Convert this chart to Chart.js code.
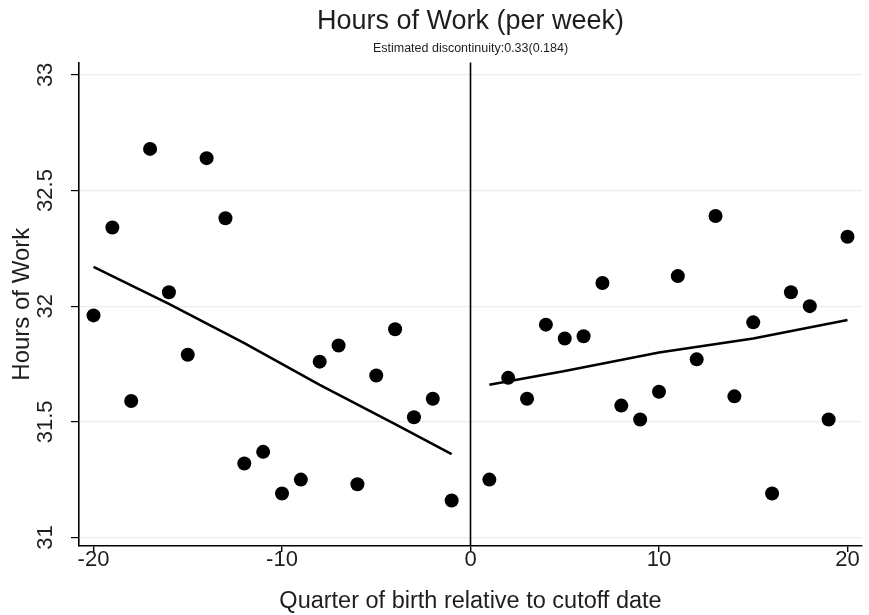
<!DOCTYPE html>
<html>
<head>
<meta charset="utf-8">
<title>Hours of Work (per week)</title>
<script src="https://cdn.jsdelivr.net/npm/chart.js@4/dist/chart.umd.min.js"></script>
<style>
  html, body { margin: 0; padding: 0; background: #ffffff; overflow: hidden; }
  canvas { display: block; }
</style>
</head>
<body>
<canvas id="chart" width="869" height="615"></canvas>
<script>
// Quarter of birth relative to the school-entry cutoff, and mean weekly hours per quarter
const leftQuarters  = [-20, -19, -18, -17, -16, -15, -14, -13, -12, -11, -10, -9, -8, -7, -6, -5, -4, -3, -2, -1];
const leftHours     = [31.96, 32.34, 31.59, 32.68, 32.06, 31.79, 32.64, 32.38, 31.32, 31.37, 31.19, 31.25, 31.76, 31.83, 31.23, 31.70, 31.90, 31.52, 31.60, 31.16];
const rightQuarters = [1, 2, 3, 4, 5, 6, 7, 8, 9, 10, 11, 12, 13, 14, 15, 16, 17, 18, 19, 20];
const rightHours    = [31.25, 31.69, 31.60, 31.92, 31.86, 31.87, 32.10, 31.57, 31.51, 31.63, 32.13, 31.77, 32.39, 31.61, 31.93, 31.19, 32.06, 32.00, 31.51, 32.30];

// Fitted curves on each side of the cutoff
const leftFitQuarters  = [-20, -16, -12, -8, -4, -1];
const leftFitHours     = [32.17, 32.01, 31.84, 31.66, 31.49, 31.36];
const rightFitQuarters = [1, 5, 10, 15, 20];
const rightFitHours    = [31.66, 31.72, 31.80, 31.86, 31.94];

const cutoff = 0;
const xTickValues = [-20, -10, 0, 10, 20];
const xTickLabels = ['-20', '-10', '0', '10', '20'];
const yTickValues = [31, 31.5, 32, 32.5, 33];
const yTickLabels = ['31', '31.5', '32', '32.5', '33'];

const chartTitle    = 'Hours of Work (per week)';
const chartSubtitle = 'Estimated discontinuity:0.33(0.184)';
const xAxisTitle    = 'Quarter of birth relative to cutoff date';
const yAxisTitle    = 'Hours of Work';

const FONT = "'Liberation Sans', Arial, Helvetica, sans-serif";
const INK = '#1e1e1e';

const toPoints = (xs, ys) => xs.map((x, i) => ({ x: x, y: ys[i] }));

// Vertical reference line at the cutoff, and the tick labels of both axes
// (y labels are rotated to read upwards)
const cutoffAndLabels = {
  id: 'cutoffAndLabels',
  beforeDatasetsDraw(chart) {
    const { ctx, chartArea, scales } = chart;
    const px = scales.x.getPixelForValue(cutoff);
    ctx.save();
    ctx.strokeStyle = '#000';
    ctx.lineWidth = 1.6;
    ctx.beginPath();
    ctx.moveTo(px, chartArea.top);
    ctx.lineTo(px, chartArea.bottom);
    ctx.stroke();
    ctx.restore();
  },
  afterDraw(chart) {
    const { ctx, scales, chartArea } = chart;
    ctx.save();
    ctx.fillStyle = INK;
    ctx.font = '22px ' + FONT;
    ctx.textAlign = 'center';
    ctx.textBaseline = 'middle';
    yTickValues.forEach((v, i) => {
      const py = scales.y.getPixelForValue(v);
      ctx.save();
      ctx.translate(46, py);
      ctx.rotate(-Math.PI / 2);
      ctx.fillText(yTickLabels[i], 0, 0);
      ctx.restore();
    });
    xTickValues.forEach((v, i) => {
      const px = scales.x.getPixelForValue(v);
      ctx.fillText(xTickLabels[i], px, chartArea.bottom + 14);
    });
    ctx.restore();
  }
};

new Chart(document.getElementById('chart'), {
  type: 'scatter',
  data: {
    datasets: [
      {
        label: 'Left fit',
        data: toPoints(leftFitQuarters, leftFitHours),
        showLine: true,
        borderColor: '#000',
        borderWidth: 2.6,
        pointRadius: 0,
        fill: false,
        tension: 0
      },
      {
        label: 'Right fit',
        data: toPoints(rightFitQuarters, rightFitHours),
        showLine: true,
        borderColor: '#000',
        borderWidth: 2.6,
        pointRadius: 0,
        fill: false,
        tension: 0
      },
      {
        label: 'Before cutoff',
        data: toPoints(leftQuarters, leftHours),
        backgroundColor: '#000',
        borderColor: '#000',
        pointRadius: 7,
        borderWidth: 0
      },
      {
        label: 'After cutoff',
        data: toPoints(rightQuarters, rightHours),
        backgroundColor: '#000',
        borderColor: '#000',
        pointRadius: 7,
        borderWidth: 0
      }
    ]
  },
  options: {
    responsive: false,
    animation: false,
    devicePixelRatio: 1,
    layout: { padding: { left: 0, right: 3, top: 0, bottom: 0 } },
    plugins: {
      legend: { display: false },
      tooltip: { enabled: false },
      title: {
        display: true,
        text: chartTitle,
        fullSize: false,
        color: INK,
        font: { family: FONT, size: 27, weight: 'normal' },
        padding: { top: 5, bottom: 4 }
      },
      subtitle: {
        display: true,
        text: chartSubtitle,
        fullSize: false,
        color: INK,
        font: { family: FONT, size: 12.5, weight: 'normal' },
        padding: { top: 0, bottom: 6 }
      }
    },
    scales: {
      x: {
        type: 'linear',
        min: -20.77,
        max: 20.77,
        afterBuildTicks: s => { s.ticks = xTickValues.map(v => ({ value: v })); },
        afterFit: s => { s.height = 69; },
        border: { display: true, color: '#000', width: 1.6 },
        grid: { drawOnChartArea: false, drawTicks: true, tickLength: 6, tickColor: '#000', lineWidth: 1.4 },
        ticks: {
          color: 'rgba(0,0,0,0)',
          font: { family: FONT, size: 22 },
          padding: 0,
          maxRotation: 0,
          minRotation: 0,
          callback: () => ''
        },
        title: {
          display: true,
          text: xAxisTitle,
          color: INK,
          font: { family: FONT, size: 23.5 },
          padding: { top: 0, bottom: -1 }
        }
      },
      y: {
        type: 'linear',
        min: 30.963,
        max: 33.054,
        afterBuildTicks: s => { s.ticks = yTickValues.map(v => ({ value: v })); },
        afterFit: s => { s.width = 79; },
        border: { display: true, color: '#000', width: 1.6 },
        grid: { color: '#ececec', lineWidth: 1.2, drawTicks: true, tickLength: 8, tickColor: '#000' },
        ticks: {
          color: 'rgba(0,0,0,0)',
          font: { family: FONT, size: 22 },
          padding: 4,
          callback: () => ''
        },
        title: {
          display: true,
          text: yAxisTitle,
          color: INK,
          font: { family: FONT, size: 24 },
          padding: { top: 8, bottom: 0 }
        }
      }
    }
  },
  plugins: [cutoffAndLabels]
});
</script>
</body>
</html>
